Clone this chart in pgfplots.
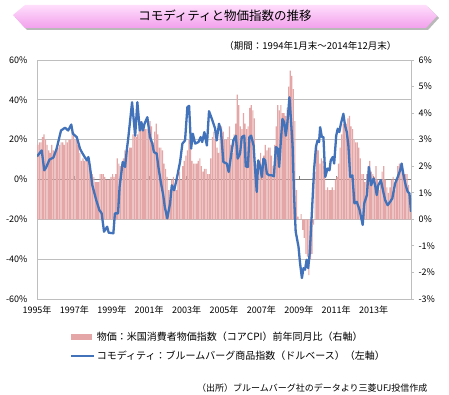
\documentclass[border=0pt]{standalone}
\usepackage{fontspec}
\setmainfont{Noto Sans CJK JP}
\usepackage{pgfplots}
\pgfplotsset{compat=1.18}
\definecolor{barpink}{RGB}{228,166,166}
\definecolor{lineblue}{RGB}{66,114,186}
\definecolor{gridgray}{RGB}{190,190,190}
\definecolor{zerogray}{RGB}{128,128,128}
\definecolor{bannertop}{RGB}{255,222,252}
\definecolor{bannerbot}{RGB}{242,160,236}
\begin{document}
\begin{tikzpicture}[x=1pt,y=1pt]
\path[use as bounding box] (0,0) rectangle (449,394);
% banner
\fill[gray!55] (15,377) -- (27,387) -- (428,387) -- (439,376) -- (428,364) -- (27,364) -- cycle;
\shade[top color=bannertop, bottom color=bannerbot] (13,379) -- (25,389) -- (426,389) -- (437,378) -- (426,366) -- (25,366) -- cycle;
\node[font=\fontsize{12.5}{14}\selectfont] at (225,378) {コモディティと物価指数の推移};
\node[font=\fontsize{9.5}{11}\selectfont, anchor=east] at (400,348) {（期間：1994年1月末～2014年12月末）};
\node[font=\fontsize{9}{10}\selectfont, anchor=east] at (431,6) {（出所）ブルームバーグ社のデータより三菱UFJ投信作成};

% grid / left axis
\begin{axis}[at={(37pt,95pt)}, anchor=south west, scale only axis, width=374pt, height=239pt,
  xmin=0, xmax=240, ymin=-60, ymax=60, clip=false,
  axis x line*=bottom, axis y line*=left,
  axis line style={gridgray, line width=0.8pt},
  ytick={-60,-40,...,60}, yticklabel={\pgfmathprintnumber{\tick}\%},
  ymajorgrids, grid style={gridgray, line width=0.8pt},
  xtick={0,24,...,216},
  xticklabels={1995年,1997年,1999年,2001年,2003年,2005年,2007年,2009年,2011年,2013年},
  major tick length=0pt, tick style={draw=none},
  ticklabel style={font=\fontsize{9}{10}\selectfont},
  /pgf/number format/assume math mode=true,
  yticklabel style={xshift=-6pt}, xticklabel style={yshift=-3pt},
  extra y ticks={0}, extra y tick labels={},
  extra y tick style={major grid style={zerogray, line width=0.8pt}},
]
\pgfplotsinvokeforeach{24,48,72,96,120,144,168,192,216}{\draw[zerogray, line width=0.6pt] (axis cs:#1,0) -- (axis cs:#1,2);}
\end{axis}

% bars, right axis
\begin{axis}[at={(37pt,95pt)}, anchor=south west, scale only axis, width=374pt, height=239pt,
  xmin=0, xmax=240, ymin=-3, ymax=6,
  hide x axis, axis y line*=right,
  axis line style={gridgray, line width=0.8pt},
  ytick={-3,-2,...,6}, yticklabel={\pgfmathprintnumber{\tick}\%},
  tick align=outside, major tick length=3pt, ytick style={gridgray, line width=0.8pt},
  ticklabel style={font=\fontsize{9}{10}\selectfont},
  /pgf/number format/assume math mode=true,
  yticklabel style={xshift=1pt},
]
\addplot[ybar, bar width=0.72, bar shift=0pt, fill=barpink, draw=none]
 table[row sep=\\, header=false, x expr=\coordindex+0.5, y index=0] {
2.8\\2.9\\2.9\\3.1\\3.2\\3.0\\2.8\\2.6\\2.5\\2.8\\2.6\\2.5\\
2.7\\2.7\\2.8\\2.9\\2.9\\2.8\\3.0\\2.9\\3.0\\3.0\\3.3\\3.3\\
3.0\\3.0\\2.8\\2.5\\2.2\\2.3\\2.2\\2.2\\2.2\\2.1\\1.8\\1.7\\
1.6\\1.4\\1.4\\1.4\\1.7\\1.7\\1.7\\1.6\\1.5\\1.5\\1.5\\1.6\\
1.7\\1.6\\1.7\\2.3\\2.1\\2.0\\2.1\\2.3\\2.6\\2.6\\2.6\\2.7\\
2.7\\3.2\\3.8\\3.1\\3.2\\3.7\\3.7\\3.4\\3.5\\3.4\\3.4\\3.4\\
3.7\\3.5\\2.9\\3.3\\3.6\\3.2\\2.7\\2.7\\2.6\\2.1\\1.9\\1.6\\
1.1\\1.1\\1.5\\1.6\\1.2\\1.1\\1.5\\1.8\\1.5\\2.0\\2.2\\2.4\\
2.6\\3.0\\3.0\\2.2\\2.1\\2.1\\2.1\\2.2\\2.3\\2.0\\1.8\\1.9\\
1.9\\1.7\\1.7\\2.3\\3.1\\3.3\\3.0\\2.7\\2.5\\3.2\\3.5\\3.3\\
3.0\\3.0\\3.1\\3.5\\2.8\\2.5\\3.2\\3.6\\4.7\\4.3\\3.5\\3.4\\
4.0\\3.6\\3.4\\3.5\\4.2\\4.3\\4.1\\3.8\\2.1\\1.3\\2.0\\2.5\\
2.1\\2.4\\2.8\\2.6\\2.7\\2.7\\2.4\\2.0\\2.8\\3.5\\4.3\\4.1\\
4.3\\4.0\\4.0\\3.9\\4.2\\5.0\\5.6\\5.4\\4.9\\3.7\\1.1\\0.1\\
0.0\\0.2\\-0.4\\-0.7\\-1.3\\-1.4\\-2.1\\-1.5\\-1.3\\-0.2\\1.8\\2.7\\
2.6\\2.1\\2.3\\2.2\\2.0\\1.1\\1.2\\1.1\\1.1\\1.2\\1.1\\1.5\\
1.6\\2.1\\2.7\\3.2\\3.6\\3.6\\3.6\\3.8\\3.9\\3.5\\3.4\\3.0\\
2.9\\2.9\\2.7\\2.3\\1.7\\1.7\\1.4\\1.7\\2.0\\2.2\\1.8\\1.7\\
1.6\\2.0\\1.5\\1.1\\1.4\\1.8\\2.0\\1.5\\1.2\\1.0\\1.2\\1.5\\
1.6\\1.1\\1.5\\2.0\\2.1\\2.1\\2.0\\1.7\\1.7\\1.7\\1.3\\0.8\\
};
\end{axis}

% line, left scale
\begin{axis}[at={(37pt,95pt)}, anchor=south west, scale only axis, width=374pt, height=239pt,
  xmin=0, xmax=240, ymin=-60, ymax=60, hide axis,
  legend style={at={(0.088,-0.128)}, anchor=north west, draw=none, fill=none,
    font=\fontsize{10}{11}\selectfont, row sep=5pt, inner sep=0pt,
    /tikz/every even column/.append style={column sep=0pt}},
  legend cell align=left,
]
\addlegendimage{legend image code/.code={\fill[barpink] (0pt,-2.8pt) rectangle (20pt,2.8pt);}}
\addlegendentry{物価：米国消費者物価指数（コアCPI）前年同月比（右軸）}
\addplot[lineblue, line width=2.3pt, line join=round,
  legend image code/.code={\draw[lineblue, line width=1.8pt] (0pt,0pt) -- (23pt,0pt);}]
 coordinates {
(0,11.6) (3,14.6) (4.7,4.6) (6,6.3) (8,10) (10.5,11) (12.6,15.5) (15.4,24.6) (18,26) (20,24.6)
(22,27.6) (23,23) (25.5,21.3) (27.6,15.5) (28.7,13.8) (30.6,11.3) (32,9.6) (33,11.3) (34,6.3)
(35.5,-2.9) (38,-10.3) (40,-15.3) (41.5,-17) (43,-26.2) (45,-23.7) (46,-26.7) (49,-27) (50,-17)
(52,-17) (53,-3.7) (55,8.8) (56.5,6.3) (57.6,14.6) (58.6,21) (61,38.8) (63,22) (64.4,38.8)
(66,24.6) (67,28.8) (68,24.6) (69,28) (70.8,31.3) (72.5,21.3) (74,18) (75,13.8) (76.8,13)
(77.9,6.3) (79.6,-2) (81,-7.8) (82,-13.7) (83.6,-19.5) (85.4,-12) (86.5,-2.9) (88,-5.4)
(89.7,0.5) (91.8,8.8) (93.3,18) (95,19.6) (96.5,36.3) (97.6,37) (98.9,15.5) (100,23)
(101.5,18) (103.6,18.8) (105,21.3) (106,18.8) (107.4,23.8) (109,17.1) (110.4,34.3) (112.6,29.6)
(114.3,25.5) (115.3,19.6) (116.8,28) (118,24.6) (119.6,8.8) (121.8,8) (123,3.8) (125,14.6)
(126,19.6) (127.6,22) (128.8,10.5) (130.3,13) (131.4,21.3) (133,22) (134,6.6) (135.3,6.3)
(136.3,21.3) (137.4,22) (139,17.1) (140,4.6) (141,-6.2) (142,9.6) (143,7.1) (144.3,1.3)
(145.3,10.5) (146.4,9.6) (147.5,3) (149,2.1) (150.7,2.1) (152,1.6) (153.3,16.3) (154.5,15.5)
(155.4,6.3) (156.5,19.6) (157.5,30.4) (158.6,28.8) (159.7,22) (160.7,28.8) (162,41.3) (163,29.6)
(164,17.1) (165,-8.7) (166,-26.2) (167.8,-33.7) (168.8,-42) (170,-49.5) (171,-44.5) (172,-45.3)
(173,-40.3) (174,-44.5) (175,-37) (176.5,-15) (177.8,5) (179,16.3) (180,19.6) (181,18.8)
(181.7,26.3) (182.8,21.3) (183.8,21.3) (185,1.3) (186.4,5.5) (187.7,4.6) (188.5,9.6) (189.8,11.3)
(190.7,8) (192,22) (193,25.5) (194,23.8) (195,28) (196.6,33) (197.7,27) (198.8,23.8) (199.8,17.1)
(201,1.3) (202.4,2.1) (203.7,-12) (205.2,-11.2) (207,-15.3) (209,-22.8) (210,-12) (211.7,-7.8)
(213,6.3) (214.4,-2.9) (216,0.5) (217,-2.9) (218,-7.8) (219,-2.9) (220.7,-0.3) (222,-5.4)
(223.4,-10.3) (225,-12.9) (226.6,-11.2) (228,-9.5) (229.8,-2) (231.5,1.3) (233,4.6) (234,8)
(235,3) (236.6,-2.9) (237.9,-6.2) (239,-7) (240,-16.2)
};
\addlegendentry{コモディティ：ブルームバーグ商品指数（ドルベース）（左軸）}
\end{axis}
\end{tikzpicture}
\end{document}
